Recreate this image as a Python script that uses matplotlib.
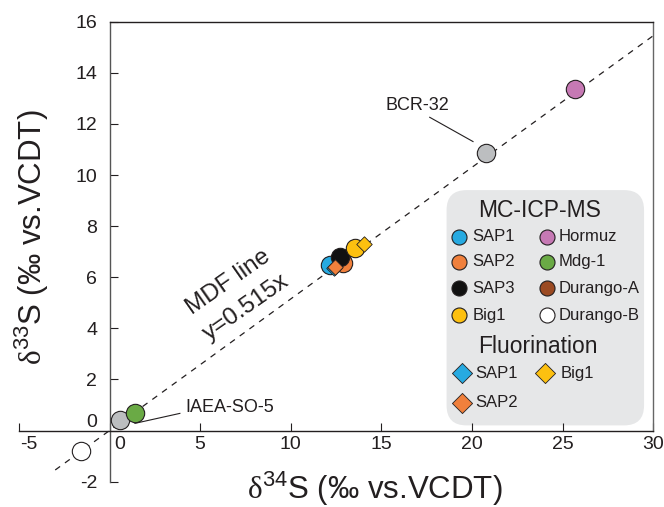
import matplotlib.pyplot as plt
from matplotlib.patches import FancyBboxPatch
from matplotlib.transforms import ScaledTranslation

plt.rcParams['font.family'] = ['Liberation Sans', 'DejaVu Sans']
plt.rcParams['mathtext.fontset'] = 'custom'
plt.rcParams['mathtext.rm'] = 'Liberation Serif'
plt.rcParams['mathtext.sf'] = 'Liberation Sans'
plt.rcParams['axes.unicode_minus'] = False

INK = '#231f20'

# MC-ICP-MS results (d34S, d33S in permil vs VCDT)
mc_names = ['SAP1', 'SAP2', 'SAP3', 'Big1', 'Hormuz', 'Mdg-1', 'Durango-A', 'Durango-B']
mc_colors = ['#27aae1', '#f0803c', '#111111', '#fdc010', '#c679b4', '#6aaa45', '#9b4a22', '#ffffff']
mc_d34 = [12.15, 12.9, 12.7, 13.55, 25.7, 1.4, 12.75, -1.55]
mc_d33 = [6.48, 6.55, 6.8, 7.13, 13.35, 0.7, 6.75, -0.8]
mc_z = [3, 4, 5, 6, 3, 4, 2, 3]

# fluorination results
fl_names = ['SAP1', 'SAP2', 'Big1']
fl_colors = ['#27aae1', '#f0803c', '#fdc010']
fl_d34 = [12.4, 12.43, 14.03]
fl_d33 = [6.38, 6.41, 7.3]
fl_z = [7, 8, 7]

# reference materials
ref_names = ['IAEA-SO-5', 'BCR-32']
ref_d34 = [0.6, 20.75]
ref_d33 = [0.42, 10.87]

mdf_slope = 0.515
mdf_x = [-3, 30]

fig = plt.figure(figsize=(6.64, 5.07), dpi=100)
ax = fig.add_axes([0.0286, 0.0501, 0.955, 0.907])
ax.set_xlim(-5, 30)
ax.set_ylim(-2, 16)

for side in ['left', 'bottom', 'top', 'right']:
    ax.spines[side].set_color(INK)
    ax.spines[side].set_linewidth(1.0)
ax.spines['left'].set_position(('data', 0))
ax.spines['bottom'].set_position(('data', 0))
ax.spines['top'].set_bounds(0, 30)
ax.spines['right'].set_bounds(0, 16)
ax.spines['left'].set_color('#555555')
ax.spines['right'].set_color('#666666')

ax.set_xticks(range(-5, 31, 5))
ax.set_yticks(range(-2, 17, 2))
ax.tick_params(direction='in', length=5.5, width=0.8, labelsize=14, colors=INK)
ax.tick_params(axis='x', pad=4)
ax.tick_params(axis='y', pad=9)

# nudge the labels that would collide with the crossing axes
shift_r = ScaledTranslation(7 / 72, 0, fig.dpi_scale_trans)
shift_u = ScaledTranslation(0, 7 / 72, fig.dpi_scale_trans)
xt = ax.xaxis.get_major_ticks()
xt[0].label1.set_transform(xt[0].label1.get_transform() + shift_r)
xt[1].label1.set_transform(xt[1].label1.get_transform() + shift_r)
yt = ax.yaxis.get_major_ticks()
yt[1].label1.set_transform(yt[1].label1.get_transform() + shift_u)

ax.set_xlabel(r'$\mathrm{\delta}^{\mathsf{34}}$S (‰ vs.VCDT)', fontsize=22.5, color=INK)
ax.xaxis.label.set_verticalalignment('center')
ax.xaxis.set_label_coords(0.5615, -0.0155)
ax.set_ylabel(r'$\mathrm{\delta}^{\mathsf{33}}$S (‰ vs.VCDT)', fontsize=22.5, color=INK)
ax.yaxis.label.set_verticalalignment('center')
ax.yaxis.set_label_coords(0.020, 0.531)

# mass-dependent fractionation line
ax.plot(mdf_x, [mdf_slope * x for x in mdf_x], color=INK, lw=0.9,
        ls=(0, (4.8, 4.8)), zorder=1.5)
ax.text(7.05, 5.3, 'MDF line\ny=0.515x', rotation=35, rotation_mode='anchor',
        ha='center', va='center', fontsize=17.5, color=INK, linespacing=1.55)

# data points
for x, y, c in zip(ref_d34, ref_d33, ['#bcbec0'] * 2):
    ax.scatter(x, y, s=175, marker='o', c=c, edgecolors=INK, linewidths=0.8, zorder=3)
for x, y, c, z in zip(mc_d34, mc_d33, mc_colors, mc_z):
    ax.scatter(x, y, s=175, marker='o', c=c, edgecolors=INK, linewidths=0.8, zorder=z)
for x, y, c, z in zip(fl_d34, fl_d33, fl_colors, fl_z):
    ax.scatter(x, y, s=62, marker='D', c=c, edgecolors=INK, linewidths=0.6, zorder=z)

# reference material labels
ax.text(16.98, 12.74, ref_names[1], fontsize=13, color=INK, ha='center', va='center')
ax.plot([17.67, 20.06], [12.26, 11.31], color=INK, lw=0.8, zorder=2)
ax.text(6.65, 0.89, ref_names[0], fontsize=13, color=INK, ha='center', va='center')
ax.plot([3.88, 1.40], [0.67, 0.28], color=INK, lw=0.8, zorder=2)

# legend panel
box = FancyBboxPatch((18.6, 0.2), 10.9, 9.21, boxstyle='round,pad=0,rounding_size=1.1',
                     mutation_aspect=0.71, fc='#e6e7e8', ec='none', zorder=1)
ax.add_patch(box)

ax.text(23.74, 8.63, 'MC-ICP-MS', fontsize=16.5, color=INK, ha='center', va='center', zorder=9)
row_y = [7.585, 6.607, 5.566, 4.52]
for i, (name, c) in enumerate(zip(mc_names, mc_colors)):
    mx, tx = (19.27, 20.04) if i < 4 else (24.12, 24.78)
    y = row_y[i % 4]
    ax.scatter(mx, y, s=117, marker='o', c=c, edgecolors=INK, linewidths=0.8, zorder=9)
    ax.text(tx, y, name, fontsize=12, color=INK, ha='left', va='center', zorder=9)

ax.text(23.62, 3.28, 'Fluorination', fontsize=16.5, color=INK, ha='center', va='center', zorder=9)
fl_pos = [(19.43, 20.2, 2.25), (19.43, 20.2, 1.08), (24.01, 24.89, 2.25)]
for (mx, tx, y), name, c in zip(fl_pos, fl_names, fl_colors):
    ax.scatter(mx, y, s=105, marker='D', c=c, edgecolors=INK, linewidths=0.6, zorder=9)
    ax.text(tx, y, name, fontsize=12, color=INK, ha='left', va='center', zorder=9)

fig.savefig('out.png', dpi=100)
